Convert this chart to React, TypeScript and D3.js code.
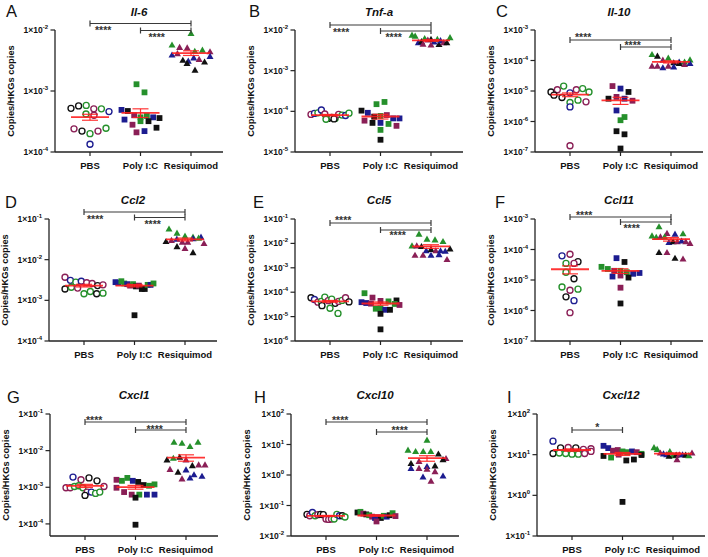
import React from "react";
import * as d3 from "d3";

type Pt = [number, string];

const GROUPS = ["PBS", "Poly I:C", "Resiquimod"];
const SHAPES = ["circle", "square", "triangle"];
const COLORS: Record<string, string> = { k: "#111111", b: "#1c1c90", g: "#25902b", m: "#8a1f56" };

// ---------- A: Il-6 ----------
const il6Pbs: Pt[] = [[5.2e-4,"k"],[5.7e-4,"k"],[5.8e-4,"g"],[5.1e-4,"m"],[5.1e-4,"g"],[4.6e-4,"b"],[4.2e-4,"g"],[4.0e-4,"m"],[2.4e-4,"m"],[2.2e-4,"k"],[2.0e-4,"g"],[2.2e-4,"m"],[2.45e-4,"g"],[1.34e-4,"b"]];
const il6Poly: Pt[] = [[1.29e-3,"g"],[9.5e-4,"g"],[4.9e-4,"b"],[4.7e-4,"k"],[4.0e-4,"m"],[3.7e-4,"g"],[3.9e-4,"g"],[3.4e-4,"b"],[3.7e-4,"b"],[3.6e-4,"k"],[2.8e-4,"m"],[3.2e-4,"g"],[3.2e-4,"k"],[2.5e-4,"k"],[2.1e-4,"m"],[2.2e-4,"b"]];
const il6Res: Pt[] = [[8.8e-3,"g"],[5.7e-3,"g"],[5.2e-3,"m"],[5.1e-3,"m"],[4.5e-3,"g"],[4.7e-3,"g"],[4.4e-3,"m"],[3.9e-3,"b"],[4.1e-3,"m"],[3.2e-3,"k"],[3.1e-3,"b"],[3.5e-3,"b"],[3.3e-3,"m"],[2.85e-3,"k"],[3.0e-3,"k"],[2.2e-3,"k"],[3.7e-3,"b"]];

// ---------- B: Tnf-a ----------
const tnfPbs: Pt[] = [[8.4e-5,"m"],[8.9e-5,"b"],[9.2e-5,"g"],[1.08e-4,"b"],[8.6e-5,"m"],[6.7e-5,"k"],[7.1e-5,"k"],[6.7e-5,"g"],[6.4e-5,"g"],[6.5e-5,"k"],[8.4e-5,"m"],[8.1e-5,"g"],[7.9e-5,"b"],[9.0e-5,"g"]];
const tnfPoly: Pt[] = [[1.5e-4,"g"],[1.7e-4,"g"],[1.04e-4,"k"],[9.2e-5,"b"],[7.4e-5,"k"],[7.7e-5,"g"],[8.1e-5,"m"],[6.7e-5,"b"],[5.9e-5,"m"],[5.2e-5,"k"],[5.2e-5,"b"],[4.9e-5,"g"],[6.7e-5,"b"],[4.4e-5,"m"],[3.5e-5,"g"],[2.0e-5,"k"]];
const tnfRes: Pt[] = [[7.5e-3,"g"],[7.1e-3,"g"],[4.9e-3,"b"],[5.2e-3,"k"],[6.2e-3,"g"],[5.7e-3,"m"],[5.9e-3,"k"],[5.1e-3,"b"],[4.5e-3,"m"],[4.3e-3,"m"],[4.4e-3,"k"],[5.9e-3,"g"],[5.5e-3,"b"],[4.9e-3,"m"],[4.9e-3,"k"],[6.5e-3,"g"]];

// ---------- C: Il-10 ----------
const il10Pbs: Pt[] = [[9.3e-6,"k"],[1.1e-5,"m"],[1.45e-5,"g"],[8.7e-6,"b"],[1.1e-5,"m"],[1.2e-5,"g"],[9.3e-6,"g"],[7.3e-6,"k"],[6.1e-6,"k"],[4.2e-6,"g"],[5.0e-6,"g"],[4.4e-6,"m"],[3.0e-6,"b"],[1.6e-7,"m"]];
const il10Poly: Pt[] = [[1.45e-5,"m"],[1.2e-5,"b"],[9.3e-6,"k"],[5.6e-6,"k"],[6.4e-6,"m"],[5.6e-6,"b"],[4.8e-6,"m"],[2.3e-6,"b"],[1.4e-6,"g"],[1.1e-6,"g"],[4.8e-7,"k"],[3.8e-7,"k"],[1.3e-7,"k"]];
const il10Res: Pt[] = [[1.58e-4,"g"],[1.4e-4,"k"],[1.03e-4,"m"],[1.2e-4,"g"],[8.5e-5,"k"],[9.0e-5,"b"],[9.0e-5,"g"],[6.6e-5,"m"],[6.6e-5,"m"],[5.8e-5,"b"],[6.6e-5,"m"],[6.2e-5,"b"],[8.0e-5,"k"],[1.05e-4,"g"],[7.5e-5,"m"],[8.0e-5,"b"]];

// ---------- D: Ccl2 ----------
const ccl2Pbs: Pt[] = [[3.7e-3,"m"],[3.1e-3,"b"],[2.8e-3,"g"],[2.95e-3,"b"],[2.7e-3,"m"],[2.6e-3,"m"],[1.9e-3,"k"],[2.1e-3,"g"],[2.0e-3,"m"],[2.3e-3,"k"],[1.45e-3,"g"],[1.65e-3,"g"],[1.45e-3,"k"],[1.5e-3,"g"],[2.4e-3,"m"]];
const ccl2Poly: Pt[] = [[2.8e-3,"b"],[2.7e-3,"b"],[2.95e-3,"g"],[2.6e-3,"g"],[2.5e-3,"b"],[2.3e-3,"m"],[2.5e-3,"g"],[2.2e-3,"k"],[2.3e-3,"m"],[1.9e-3,"k"],[1.9e-3,"k"],[2.4e-3,"g"],[2.4e-3,"b"],[2.6e-3,"g"],[4.3e-4,"k"]];
const ccl2Res: Pt[] = [[5.7e-2,"g"],[4.5e-2,"g"],[3.8e-2,"g"],[2.8e-2,"k"],[3.0e-2,"m"],[3.2e-2,"b"],[3.6e-2,"g"],[3.6e-2,"b"],[2.7e-2,"m"],[2.7e-2,"m"],[3.3e-2,"b"],[2.1e-2,"k"],[1.9e-2,"m"],[1.5e-2,"k"],[3.4e-2,"g"],[2.5e-2,"m"]];

// ---------- E: Ccl5 ----------
const ccl5Pbs: Pt[] = [[5.9e-5,"k"],[5.0e-5,"b"],[3.9e-5,"m"],[4.2e-5,"g"],[6.3e-5,"g"],[4.5e-5,"m"],[5.2e-5,"g"],[3.5e-5,"k"],[2.8e-5,"k"],[4.2e-5,"m"],[4.6e-5,"g"],[5.9e-5,"m"],[2.2e-5,"g"],[1.35e-5,"g"],[4.0e-5,"k"]];
const ccl5Poly: Pt[] = [[9.1e-5,"g"],[6.0e-5,"m"],[3.9e-5,"b"],[3.6e-5,"b"],[4.4e-5,"m"],[4.2e-5,"g"],[4.6e-5,"k"],[3.4e-5,"m"],[2.1e-5,"g"],[2.2e-5,"g"],[1.9e-5,"b"],[1.9e-5,"k"],[3.3e-5,"g"],[3.0e-5,"m"],[1.3e-5,"k"],[3.0e-6,"k"]];
const ccl5Res: Pt[] = [[2.4e-2,"g"],[1.5e-2,"g"],[1.4e-2,"g"],[1.2e-2,"g"],[8.0e-3,"g"],[8.0e-3,"m"],[7.5e-3,"k"],[5.0e-3,"b"],[5.7e-3,"k"],[5.0e-3,"m"],[5.0e-3,"b"],[4.8e-3,"b"],[3.3e-3,"m"],[3.3e-3,"m"],[3.3e-3,"b"],[3.5e-3,"b"],[2.2e-3,"m"],[6.0e-3,"k"]];

// ---------- F: Ccl11 ----------
const ccl11Pbs: Pt[] = [[6.2e-5,"b"],[7.0e-5,"m"],[4.0e-5,"k"],[3.5e-5,"g"],[3.5e-5,"m"],[1.8e-5,"g"],[1.1e-5,"k"],[5.9e-6,"g"],[4.6e-6,"m"],[5.0e-6,"g"],[2.8e-6,"k"],[2.1e-6,"b"],[8.5e-7,"m"]];
const ccl11Poly: Pt[] = [[5.2e-5,"b"],[3.9e-5,"k"],[2.7e-5,"g"],[2.3e-5,"g"],[2.0e-5,"m"],[2.0e-5,"g"],[1.8e-5,"g"],[1.6e-5,"b"],[1.3e-5,"b"],[1.4e-5,"m"],[1.2e-5,"k"],[1.7e-5,"b"],[5.6e-6,"m"],[1.7e-6,"k"]];
const ccl11Res: Pt[] = [[5.6e-4,"g"],[3.4e-4,"m"],[3.2e-4,"b"],[3.3e-4,"g"],[2.8e-4,"g"],[2.5e-4,"g"],[2.6e-4,"m"],[2.6e-4,"g"],[1.7e-4,"b"],[1.8e-4,"k"],[1.8e-4,"m"],[1.9e-4,"b"],[1.8e-4,"m"],[1.6e-4,"m"],[8.0e-5,"k"],[8.0e-5,"m"],[5.2e-5,"k"],[4.9e-5,"m"]];

// ---------- G: Cxcl1 ----------
const cxcl1Pbs: Pt[] = [[1.9e-3,"b"],[1.6e-3,"m"],[1.8e-3,"k"],[1.5e-3,"k"],[9.7e-4,"m"],[9.7e-4,"m"],[1.05e-3,"g"],[1.1e-3,"g"],[9.7e-4,"g"],[7.4e-4,"m"],[7.4e-4,"b"],[6.8e-4,"g"],[7.4e-4,"g"],[6.0e-4,"k"],[1.05e-3,"m"]];
const cxcl1Poly: Pt[] = [[1.6e-3,"m"],[1.5e-3,"g"],[1.8e-3,"g"],[1.5e-3,"b"],[1.4e-3,"k"],[1.15e-3,"k"],[1.1e-3,"g"],[9.7e-4,"m"],[7.4e-4,"m"],[6.3e-4,"m"],[6.3e-4,"g"],[6.3e-4,"b"],[6.3e-4,"b"],[5.2e-4,"k"],[9.5e-5,"k"],[1.2e-3,"g"]];
const cxcl1Res: Pt[] = [[1.7e-2,"g"],[1.6e-2,"g"],[1.3e-2,"g"],[1.7e-2,"g"],[5.6e-3,"k"],[6.2e-3,"g"],[6.6e-3,"k"],[5.6e-3,"m"],[3.9e-3,"k"],[4.1e-3,"m"],[4.1e-3,"m"],[3.1e-3,"m"],[2.6e-3,"k"],[3.0e-3,"b"],[2.2e-3,"b"],[1.7e-3,"m"],[1.8e-3,"b"],[2.0e-3,"b"]];

// ---------- H: Cxcl10 ----------
const cxcl10Pbs: Pt[] = [[5.1e-2,"k"],[4.6e-2,"m"],[5.9e-2,"b"],[4.6e-2,"g"],[5.0e-2,"m"],[5.1e-2,"k"],[5.0e-2,"k"],[3.6e-2,"m"],[3.5e-2,"m"],[3.6e-2,"m"],[3.6e-2,"g"],[5.1e-2,"g"],[4.6e-2,"b"],[4.6e-2,"k"],[4.2e-2,"g"]];
const cxcl10Poly: Pt[] = [[5.9e-2,"k"],[6.2e-2,"g"],[5.4e-2,"m"],[5.1e-2,"k"],[4.8e-2,"g"],[4.3e-2,"m"],[3.9e-2,"b"],[4.1e-2,"b"],[3.9e-2,"k"],[4.6e-2,"g"],[4.3e-2,"b"],[3.0e-2,"m"],[4.8e-2,"k"],[5.6e-2,"g"],[4.5e-2,"m"]];
const cxcl10Res: Pt[] = [[14,"g"],[6.6,"g"],[5.9,"g"],[5.9,"g"],[5.9,"g"],[4.9,"k"],[3.5,"m"],[2.4,"k"],[2.8,"m"],[1.65,"b"],[1.65,"m"],[1.9,"b"],[2.0,"k"],[1.55,"m"],[1.3,"m"],[0.93,"b"],[0.86,"b"],[0.63,"m"],[3.2,"k"]];

// ---------- I: Cxcl12 ----------
const cxcl12Pbs: Pt[] = [[21.5,"b"],[14.7,"k"],[15,"m"],[14.7,"k"],[13.5,"m"],[14,"m"],[10.7,"k"],[11,"g"],[10.7,"g"],[10.3,"g"],[10.3,"g"],[10.7,"m"],[12,"m"]];
const cxcl12Poly: Pt[] = [[16.5,"b"],[14.5,"b"],[12.5,"m"],[13,"m"],[12,"g"],[11.5,"g"],[12,"b"],[11.5,"m"],[9.3,"k"],[8.5,"g"],[10,"m"],[7.2,"k"],[7.6,"k"],[10.5,"g"],[0.69,"k"],[9.8,"k"]];
const cxcl12Res: Pt[] = [[15,"g"],[13.5,"g"],[11,"m"],[10.5,"b"],[10,"b"],[12,"g"],[9.5,"g"],[9.8,"k"],[9.2,"k"],[10,"m"],[7.6,"m"],[10,"b"],[9.8,"k"],[9.5,"g"],[11,"m"]];

type Sig = { a: number; b: number; label: string };
const SIG4: Sig[] = [{ a: 0, b: 2, label: "****" }, { a: 1, b: 2, label: "****" }];
const PANELS = [
  { key: "A", title: "Il-6", lo: -4, hi: -2, sets: [il6Pbs, il6Poly, il6Res], sig: SIG4 },
  { key: "B", title: "Tnf-a", lo: -5, hi: -2, sets: [tnfPbs, tnfPoly, tnfRes], sig: SIG4 },
  { key: "C", title: "Il-10", lo: -7, hi: -3, sets: [il10Pbs, il10Poly, il10Res], sig: SIG4 },
  { key: "D", title: "Ccl2", lo: -4, hi: -1, sets: [ccl2Pbs, ccl2Poly, ccl2Res], sig: SIG4 },
  { key: "E", title: "Ccl5", lo: -6, hi: -1, sets: [ccl5Pbs, ccl5Poly, ccl5Res], sig: SIG4 },
  { key: "F", title: "Ccl11", lo: -7, hi: -3, sets: [ccl11Pbs, ccl11Poly, ccl11Res], sig: SIG4 },
  { key: "G", title: "Cxcl1", lo: -4.33, hi: -1, sets: [cxcl1Pbs, cxcl1Poly, cxcl1Res], sig: SIG4 },
  { key: "H", title: "Cxcl10", lo: -2, hi: 2, sets: [cxcl10Pbs, cxcl10Poly, cxcl10Res], sig: SIG4 },
  { key: "I", title: "Cxcl12", lo: -1, hi: 2, sets: [cxcl12Pbs, cxcl12Poly, cxcl12Res], sig: [{ a: 0, b: 1, label: "*" }] as Sig[] },
];

// ---------- layout (pixels) ----------
const ROW_TOP = [30, 219, 414];
const PLOT_H = 122;
const AXIS_LEN = 168;
const LAYOUT: Record<string, { ax: number; row: number; lx: number; br: { y: number; dx: number; dy: number }[] }> = {
  A: { ax: 55, row: 0, lx: 6, br: [{ y: 23.5, dx: 5, dy: 5 }, { y: 30.5, dx: 8, dy: 5 }] },
  B: { ax: 295, row: 0, lx: 249, br: [{ y: 25, dx: 3, dy: 5 }, { y: 31, dx: 5, dy: 4 }] },
  C: { ax: 535, row: 0, lx: 496, br: [{ y: 40, dx: 5, dy: -5 }, { y: 47, dx: 4, dy: -4 }] },
  D: { ax: 49, row: 1, lx: 5, br: [{ y: 212, dx: 3, dy: 5 }, { y: 217.5, dx: 10, dy: 5 }] },
  E: { ax: 295, row: 1, lx: 253, br: [{ y: 223, dx: 5, dy: -5 }, { y: 230, dx: 9, dy: 3 }] },
  F: { ax: 535, row: 1, lx: 495, br: [{ y: 217, dx: 6, dy: -4 }, { y: 222, dx: 3, dy: 4 }] },
  G: { ax: 50, row: 2, lx: 7, br: [{ y: 422, dx: 1, dy: -4 }, { y: 430, dx: 11, dy: -3 }] },
  H: { ax: 291, row: 2, lx: 254, br: [{ y: 422, dx: 6, dy: -4 }, { y: 432, dx: 15, dy: -4 }] },
  I: { ax: 537, row: 2, lx: 507, br: [{ y: 430, dx: 0, dy: -5 }] },
};
const LETTER_BASE = [17, 208, 403];
const TITLE_BASE = [15.5, 204, 398.5];

const FONT = "'Liberation Sans', Arial, Helvetica, sans-serif";

// Prism-style scatter layout: points with similar y share a row, spread around the centre.
function rowLayout(ys: number[], binH: number, step: number, maxHalf: number): number[] {
  const order = ys.map((_, i) => i).sort((a, b) => ys[a] - ys[b]);
  const xs = new Array(ys.length).fill(0);
  let bin: number[] = [];
  let start = -Infinity;
  const flush = () => {
    if (!bin.length) return;
    const n = bin.length;
    const s = n > 1 ? Math.min(step, (2 * maxHalf) / (n - 1)) : 0;
    const sorted = [...bin].sort((a, b) => a - b);
    sorted.forEach((idx, k) => { xs[idx] = (k - (n - 1) / 2) * s; });
    bin = [];
  };
  for (const i of order) {
    if (ys[i] - start > binH) { flush(); start = ys[i]; }
    bin.push(i);
  }
  flush();
  return xs;
}

function Marker({ shape, x, y, color }: { shape: string; x: number; y: number; color: string }) {
  if (shape === "circle") return <circle cx={x} cy={y} r={3.0} fill="white" stroke={color} strokeWidth={1.35} />;
  if (shape === "square") return <rect x={x - 2.9} y={y - 2.9} width={5.8} height={5.8} fill={color} />;
  const s = 3.5;
  return <path d={`M${x},${y - s}L${x + s},${y + s * 0.75}L${x - s},${y + s * 0.75}Z`} fill={color} />;
}

function Panel({ p }: { p: (typeof PANELS)[number] }) {
  const L = LAYOUT[p.key];
  const top = ROW_TOP[L.row];
  const bottom = top + PLOT_H;
  const y = d3.scaleLog().domain([Math.pow(10, p.lo), Math.pow(10, p.hi)]).range([bottom, top]);
  const x = d3.scalePoint<string>().domain(GROUPS).range([L.ax + 35, L.ax + 136]);
  const ticks = d3.range(Math.ceil(p.lo - 1e-9), Math.floor(p.hi + 1e-9) + 1);
  const cx = L.ax + AXIS_LEN / 2;

  return (
    <g>
      <text x={L.lx} y={LETTER_BASE[L.row]} fontSize={16.5} fontFamily={FONT} fill="#111">{p.key}</text>
      <text x={cx} y={TITLE_BASE[L.row]} fontSize={11.5} fontWeight="bold" fontStyle="italic" fontFamily={FONT} textAnchor="middle" fill="#111">{p.title}</text>
      <text transform={`translate(${L.ax - 41},${(top + bottom) / 2}) rotate(-90)`} fontSize={9.3} fontWeight="bold" fontFamily={FONT} textAnchor="middle" fill="#111">Copies/HKGs copies</text>
      <line x1={L.ax} x2={L.ax} y1={top} y2={bottom} stroke="#222" strokeWidth={1.3} />
      <line x1={L.ax} x2={L.ax + AXIS_LEN} y1={bottom} y2={bottom} stroke="#222" strokeWidth={1.3} />
      {ticks.map((e) => {
        const ty = y(Math.pow(10, e));
        return (
          <g key={e}>
            <line x1={L.ax - 4.5} x2={L.ax} y1={ty} y2={ty} stroke="#222" strokeWidth={1.2} />
            <text x={L.ax - 7} y={ty + 3} textAnchor="end" fontSize={8.5} fontWeight="bold" fontFamily={FONT} fill="#111">
              1×10<tspan dy={-4} fontSize={6}>{String(e)}</tspan>
            </text>
          </g>
        );
      })}
      {GROUPS.map((g) => (
        <g key={g}>
          <line x1={x(g)} x2={x(g)} y1={bottom} y2={bottom + 4} stroke="#222" strokeWidth={1.2} />
          <text x={x(g)} y={bottom + 16.5} textAnchor="middle" fontSize={9.5} fontWeight="bold" fontFamily={FONT} fill="#111">{g}</text>
        </g>
      ))}
      {p.sets.map((set, gi) => {
        const ys = set.map((d) => y(d[0]));
        const xs = rowLayout(ys, 8.5, 8, 19);
        const x0 = x(GROUPS[gi])!;
        return (
          <g key={gi}>
            {set.map((d, i) => (
              <Marker key={i} shape={SHAPES[gi]} x={x0 + xs[i]} y={ys[i]} color={COLORS[d[1]]} />
            ))}
          </g>
        );
      })}
      {p.sets.map((set, gi) => {
        const vals = set.map((d) => d[0]);
        const m = d3.mean(vals)!;
        const sem = d3.deviation(vals)! / Math.sqrt(vals.length);
        const x0 = x(GROUPS[gi])!;
        const lo = Math.max(m - sem, Math.pow(10, p.lo));
        return (
          <g key={"m" + gi} stroke="#ff1f1f" strokeOpacity={0.9}>
            <line x1={x0 - 19} x2={x0 + 19} y1={y(m)} y2={y(m)} strokeWidth={1.8} />
            <line x1={x0} x2={x0} y1={y(lo)} y2={y(m + sem)} strokeWidth={1.2} />
            <line x1={x0 - 8} x2={x0 + 8} y1={y(lo)} y2={y(lo)} strokeWidth={1.2} />
            <line x1={x0 - 8} x2={x0 + 8} y1={y(m + sem)} y2={y(m + sem)} strokeWidth={1.2} />
          </g>
        );
      })}
      {p.sig.map((s, si) => {
        const b = L.br[si];
        const xa = x(GROUPS[s.a])!;
        const xb = x(GROUPS[s.b])!;
        const single = s.label.length === 1;
        return (
          <g key={"s" + si}>
            <line x1={xa} x2={xb} y1={b.y} y2={b.y} stroke="#3a3a3a" strokeWidth={1.2} />
            <line x1={xa} x2={xa} y1={b.y - 3} y2={b.y + 3} stroke="#3a3a3a" strokeWidth={1.2} />
            <line x1={xb} x2={xb} y1={b.y - 3} y2={b.y + 3} stroke="#3a3a3a" strokeWidth={1.2} />
            <text x={single ? (xa + xb) / 2 : xa + b.dx} y={b.y + b.dy + 5.5} textAnchor={single ? "middle" : "start"} fontSize={10.5} fontWeight="bold" fontFamily={FONT} fill="#333">{s.label}</text>
          </g>
        );
      })}
    </g>
  );
}

export default function App() {
  return (
    <svg width={708} height={557} style={{ position: "absolute", left: 0, top: 0, background: "white" }}>
      <rect width={708} height={557} fill="white" />
      {PANELS.map((p) => (
        <Panel key={p.key} p={p} />
      ))}
    </svg>
  );
}
